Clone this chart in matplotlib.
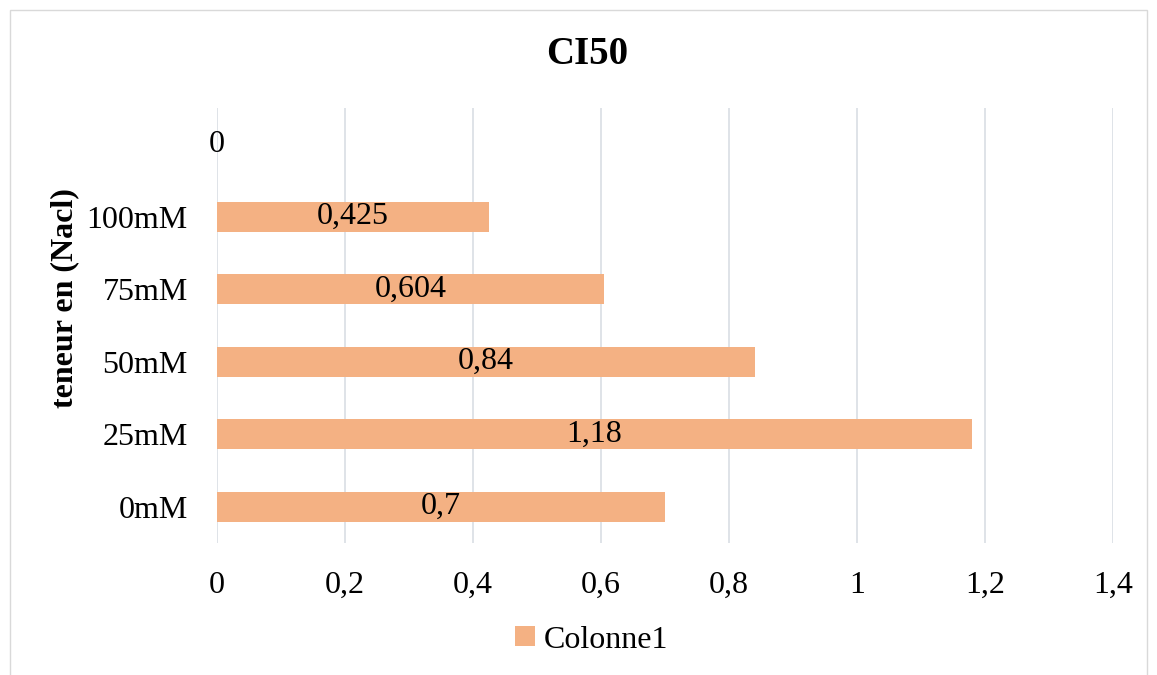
import matplotlib
matplotlib.use("Agg")
import matplotlib.pyplot as plt
from matplotlib.patches import Rectangle
from matplotlib.ticker import FuncFormatter

categories = ["0mM", "25mM", "50mM", "75mM", "100mM", ""]
values = [0.7, 1.18, 0.84, 0.604, 0.425, 0]
value_labels = ["0,7", "1,18", "0,84", "0,604", "0,425", "0"]
x_ticks = [0, 0.2, 0.4, 0.6, 0.8, 1.0, 1.2, 1.4]

plt.rcParams["font.family"] = ["Liberation Serif", "DejaVu Serif"]

BAR_COLOR = "#F4B183"
GRID_COLOR = "#DCE0E6"
FS = 23

fig = plt.figure(figsize=(11.57, 6.75), dpi=100)
ax = fig.add_axes([217 / 1157, 1 - 543 / 675, 896 / 1157, 435 / 675])

# outer chart frame
fig.patches.append(Rectangle((10 / 1157, -0.01), 1137 / 1157, 1 - 10 / 675 + 0.01,
                             transform=fig.transFigure, fill=False,
                             edgecolor="#D9D9D9", linewidth=1))

pos = list(range(len(categories)))
bars = ax.barh(pos, values, height=0.41, color=BAR_COLOR, label="Colonne1", zorder=2)

for b, lab in zip(bars, value_labels):
    ax.text(b.get_x() + b.get_width() / 2, b.get_y() + b.get_height() / 2, lab,
            ha="center", va="center", fontsize=FS, color="black", zorder=3)

ax.set_xlim(0, 1.4)
ax.set_ylim(-0.5, len(categories) - 0.5)
ax.set_xticks(x_ticks)
ax.xaxis.set_major_formatter(FuncFormatter(lambda v, _: f"{v:g}".replace(".", ",")))
ax.set_yticks(pos)
ax.set_yticklabels(categories)
ax.tick_params(axis="both", length=0, labelsize=FS)
ax.tick_params(axis="x", pad=20)
ax.tick_params(axis="y", pad=21)

ax.grid(axis="x", color=GRID_COLOR, linewidth=1.3, zorder=0)
ax.set_axisbelow(True)
for s in ax.spines.values():
    s.set_visible(False)

fig.text(65 / 1157, 1 - 298 / 675, "teneur en (Nacl)", rotation=90,
         ha="center", va="center", fontsize=23, fontweight="bold")
fig.text(587 / 1157, 1 - 55 / 675, "CI50", ha="center", va="center",
         fontsize=28, fontweight="bold")

fig.legend(handles=[bars], labels=["Colonne1"], loc="center",
           bbox_to_anchor=(592 / 1157, 1 - 640 / 675), frameon=False, fontsize=FS,
           handlelength=0.6, handleheight=0.6, handletextpad=0.3)

fig.savefig("out.png", dpi=100)
